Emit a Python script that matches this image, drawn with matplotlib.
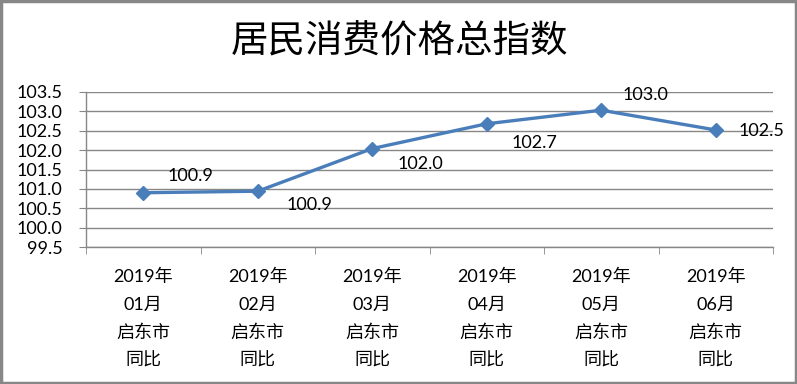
import matplotlib.pyplot as plt

plt.rcParams['font.family'] = ['Lato', 'Noto Sans CJK SC', 'DejaVu Sans']

months = ["01月", "02月", "03月", "04月", "05月", "06月"]
years = ["2019年"] * 6
city = "启东市"
kind = "同比"
values = [100.9, 100.94, 102.04, 102.68, 103.03, 102.52]
yticks = [99.5, 100.0, 100.5, 101.0, 101.5, 102.0, 102.5, 103.0, 103.5]
title = "居民消费价格总指数"

# label offsets in points (above/below the markers like the original)
offsets = [(34, 12), (37, -10), (35, -11), (34, -14), (32, 11), (33, -1)]

line_color = "#4A7EBB"
grid_color = "#878787"

fig = plt.figure(figsize=(7.97, 3.84), dpi=100)
ax = fig.add_axes([86/797, (384-247)/384, (773-86)/797, (247-92)/384])

x = list(range(len(values)))
ax.plot(x, values, color=line_color, lw=2.4, marker="D", ms=7.5,
        markerfacecolor=line_color, markeredgecolor=line_color, zorder=3)

for xi, v, off in zip(x, values, offsets):
    ax.annotate(f"{v:.1f}", (xi, v), xytext=off, textcoords="offset points",
                ha="center", va="center", fontsize=13, color="black")

ax.set_xlim(-0.5, len(values) - 0.5)
ax.set_ylim(99.5, 103.5)
ax.set_yticks(yticks)
ax.set_yticklabels([f"{t:.1f}" for t in yticks], fontsize=13)
ax.yaxis.grid(True, color=grid_color, lw=1)
ax.set_axisbelow(True)

ax.set_xticks(x)
ax.set_xticklabels([f"{y}\n{m}\n{city}\n{kind}" for y, m in zip(years, months)],
                   fontsize=13, linespacing=1.85)
# category boundary ticks
ax.set_xticks([i - 0.5 for i in range(len(values) + 1)], minor=True)
ax.tick_params(axis="x", which="major", length=0, pad=16)
ax.tick_params(axis="x", which="minor", length=5, color=grid_color, direction="out")
ax.tick_params(axis="y", length=5, color=grid_color, pad=12)

for s in ["top", "right"]:
    ax.spines[s].set_visible(False)
for s in ["left", "bottom"]:
    ax.spines[s].set_color(grid_color)
    ax.spines[s].set_linewidth(1)

fig.text(400/797, 1 - 42/384, title, ha="center", va="center", fontsize=27,
         family=["Noto Sans CJK SC", "DejaVu Sans"])

# outer border
fig.patches.append(plt.Rectangle((0.0015, 0.003), 0.997, 0.994, transform=fig.transFigure,
                                 fill=False, edgecolor=grid_color, lw=2.5))

fig.savefig("out.png", dpi=100)
